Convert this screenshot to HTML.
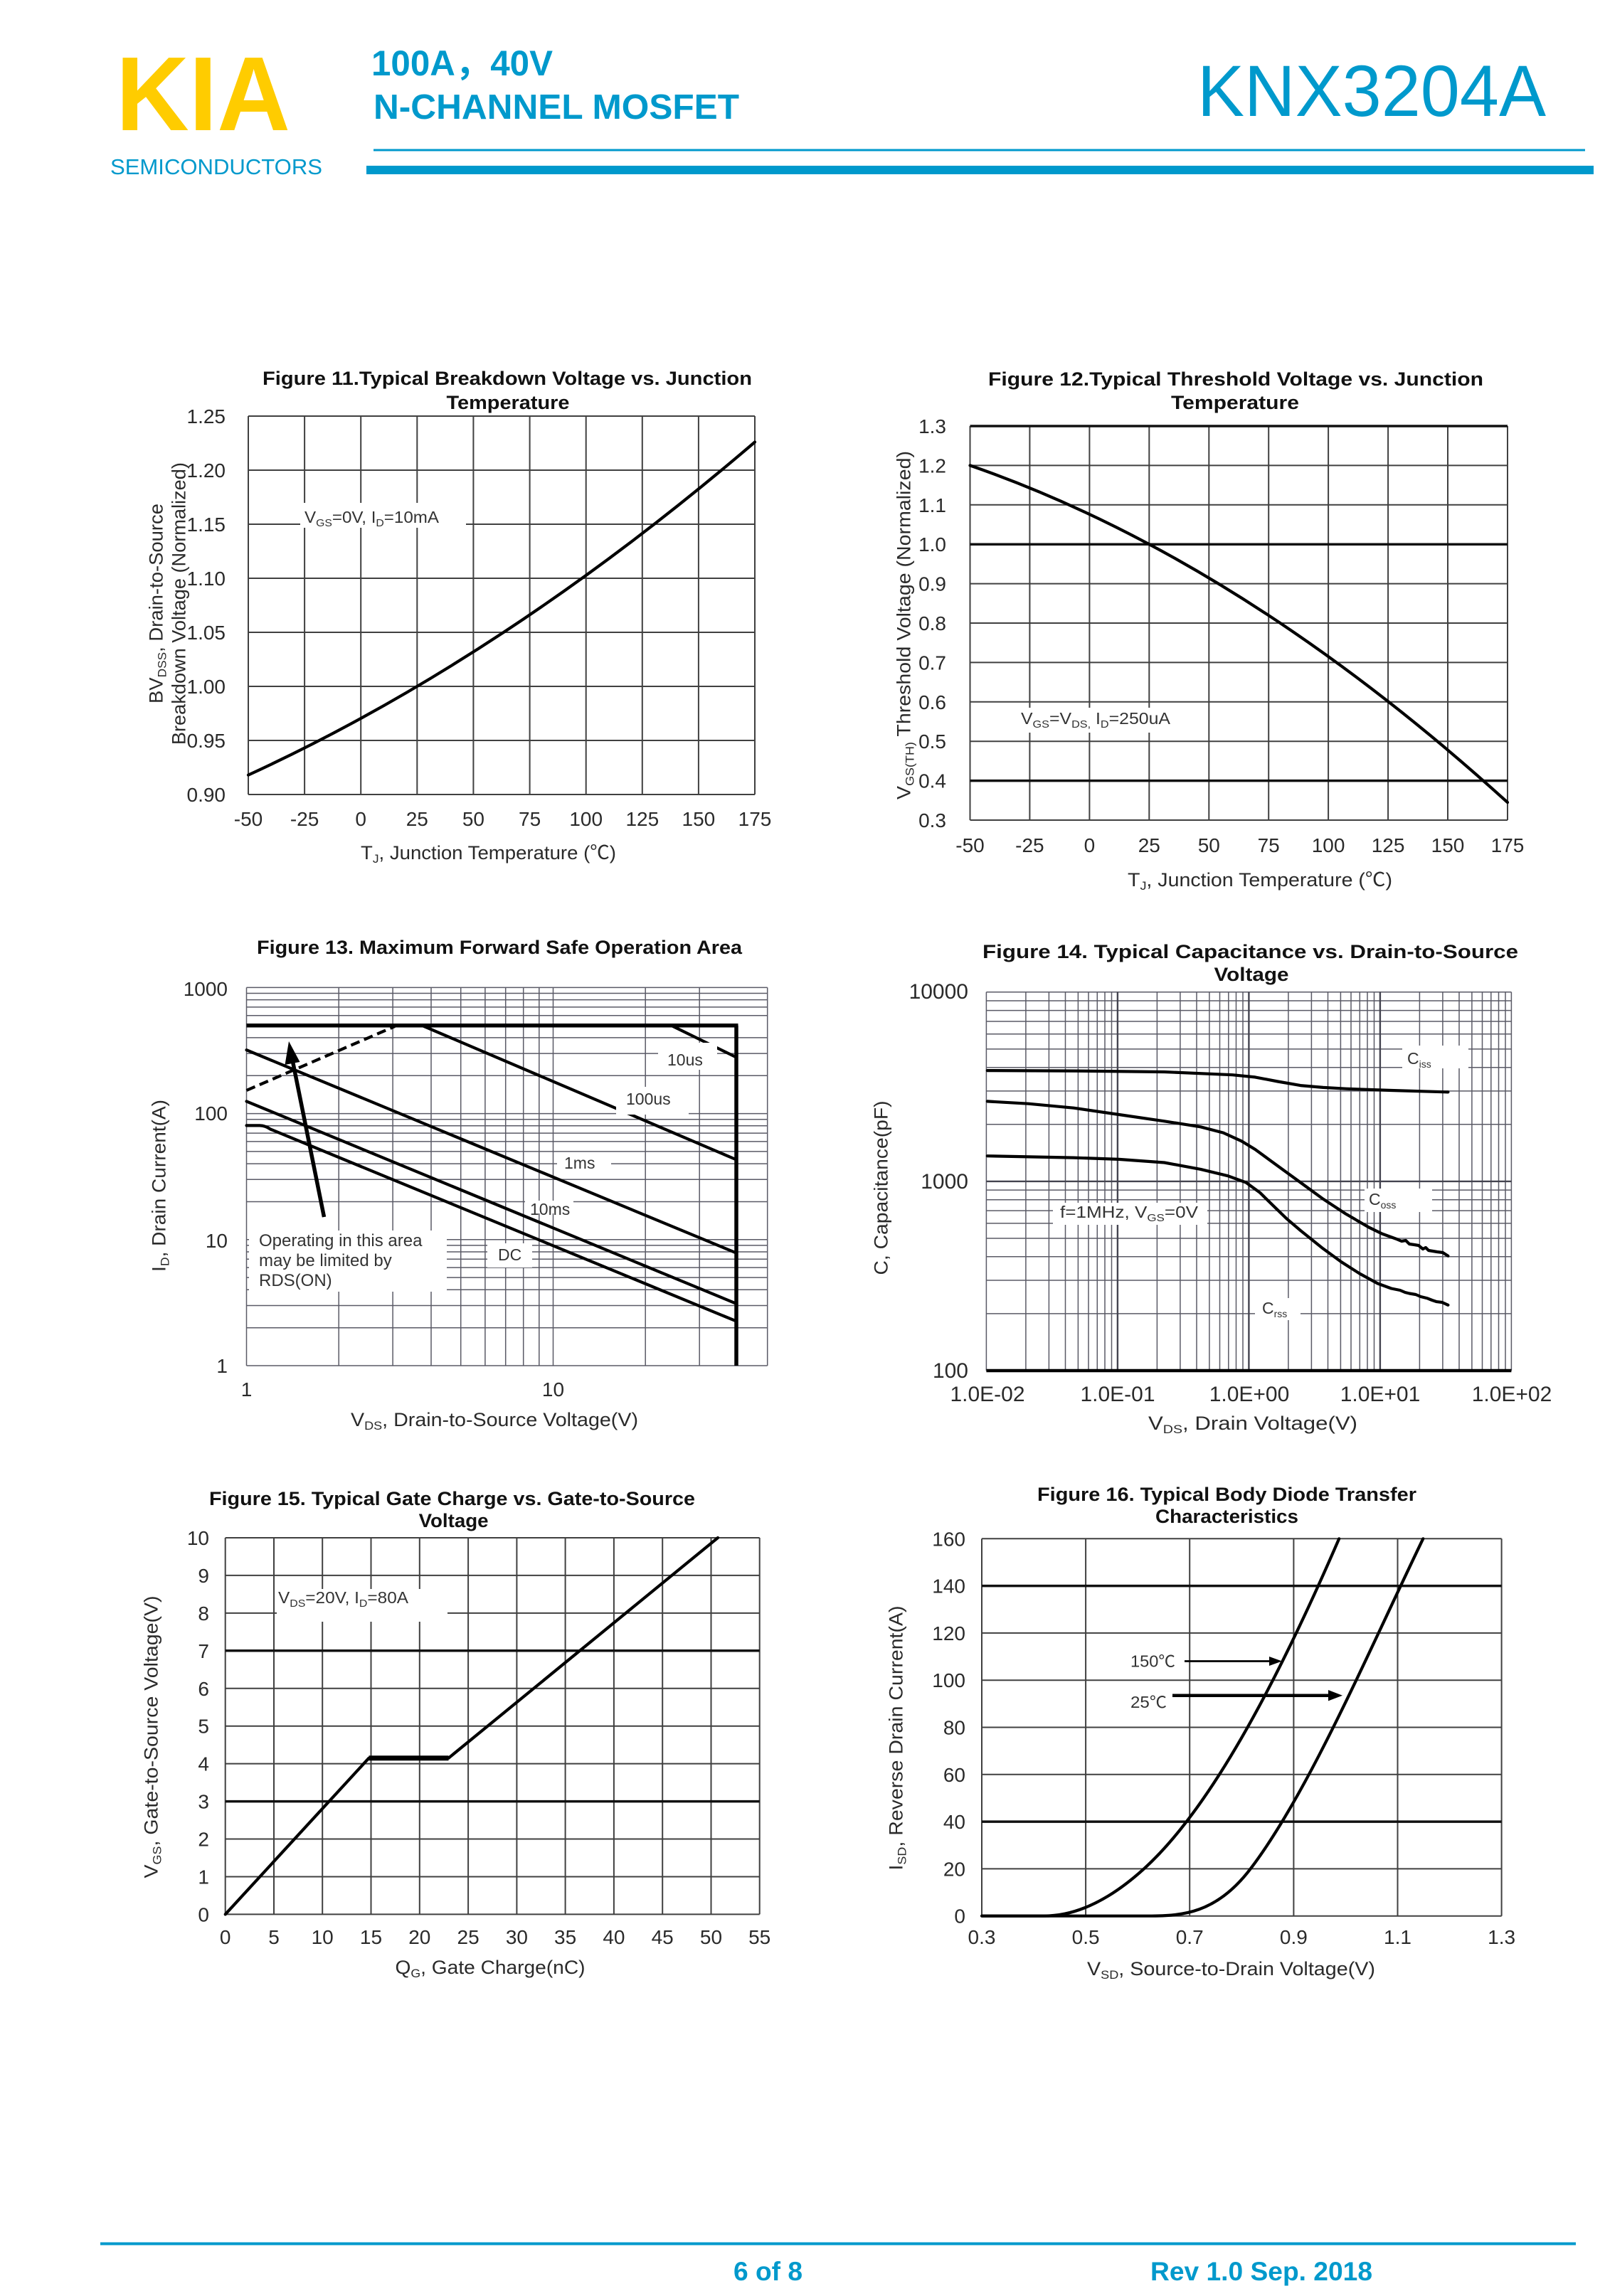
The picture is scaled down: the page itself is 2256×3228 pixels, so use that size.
<!DOCTYPE html>
<html><head><meta charset="utf-8">
<style>
html,body{margin:0;padding:0;background:#fff;}
svg{display:block;}
text{font-family:"Liberation Sans","Noto Sans CJK SC",sans-serif;}
.g{stroke:#404040;stroke-width:2;fill:none}
.gt{stroke:#111;stroke-width:3.5;fill:none}
.lg{stroke:#5a5a66;stroke-width:1.5;fill:none}
.lgd{stroke:#444450;stroke-width:2.4;fill:none}
.c{stroke:#000;stroke-width:4.2;fill:none;stroke-linejoin:round;stroke-linecap:round}
.tk{font-size:28px;fill:#2a2a2a}
.tk30{font-size:30px;fill:#2a2a2a}
.ti{font-size:27px;font-weight:bold;fill:#111}
.ax{font-size:27px;fill:#2a2a2a}
.an{font-size:23px;fill:#333}
</style></head><body>
<svg width="2256" height="3228" viewBox="0 0 2256 3228" xmlns="http://www.w3.org/2000/svg">
<rect x="0" y="0" width="2256" height="3228" fill="#fff"/>

<!-- HEADER -->
<text x="163" y="183" font-size="148" font-weight="bold" fill="#FFCC00" textLength="245" lengthAdjust="spacingAndGlyphs">KIA</text>
<text x="155" y="245" font-size="31" fill="#0099CC" textLength="298" lengthAdjust="spacingAndGlyphs">SEMICONDUCTORS</text>
<text x="522" y="106" font-size="50" font-weight="bold" fill="#0099CC" textLength="255" lengthAdjust="spacingAndGlyphs">100A，40V</text>
<text x="525" y="167" font-size="49" font-weight="bold" fill="#0099CC" textLength="514" lengthAdjust="spacingAndGlyphs">N-CHANNEL MOSFET</text>
<text x="1683" y="163" font-size="102" fill="#0099CC" textLength="490" lengthAdjust="spacingAndGlyphs">KNX3204A</text>
<rect x="525" y="209.5" width="1703" height="3" fill="#0099CC"/>
<rect x="515" y="233" width="1725" height="12" fill="#0099CC"/>

<!-- FOOTER -->
<rect x="141" y="3152.5" width="2074" height="4" fill="#0099CC"/>
<text x="1031" y="3206" font-size="37" font-weight="bold" fill="#0099CC" textLength="97" lengthAdjust="spacingAndGlyphs">6 of 8</text>
<text x="1617" y="3206" font-size="37" font-weight="bold" fill="#0099CC" textLength="312" lengthAdjust="spacingAndGlyphs">Rev 1.0 Sep. 2018</text>

<!-- ================= FIGURE 11 ================= -->
<text class="ti" x="369" y="541" textLength="688" lengthAdjust="spacingAndGlyphs">Figure 11.Typical Breakdown Voltage vs. Junction</text>
<text class="ti" x="627.5" y="575" textLength="173" lengthAdjust="spacingAndGlyphs">Temperature</text>
<path class="g" d="M349 585V1117M428.1 585V1117M507.2 585V1117M586.3 585V1117M665.4 585V1117M744.6 585V1117M823.7 585V1117M902.8 585V1117M981.9 585V1117M1061 585V1117M349 585H1061M349 661H1061M349 737H1061M349 813H1061M349 889H1061M349 965H1061M349 1041H1061M349 1117H1061"/>
<rect x="422" y="707" width="233" height="35" fill="#fff"/>
<text class="an" x="428" y="735" textLength="189" lengthAdjust="spacingAndGlyphs">V<tspan font-size="15" dy="5">GS</tspan><tspan dy="-5">=0V, I</tspan><tspan font-size="15" dy="5">D</tspan><tspan dy="-5">=10mA</tspan></text>
<path class="c" d="M349 1089.6Q705 926.2 1061 621.5"/>
<g class="tk" text-anchor="end">
<text x="317" y="595">1.25</text><text x="317" y="671">1.20</text><text x="317" y="747">1.15</text><text x="317" y="823">1.10</text>
<text x="317" y="899">1.05</text><text x="317" y="975">1.00</text><text x="317" y="1051">0.95</text><text x="317" y="1127">0.90</text>
</g>
<g class="tk" text-anchor="middle">
<text x="349" y="1161">-50</text><text x="428.1" y="1161">-25</text><text x="507.2" y="1161">0</text><text x="586.3" y="1161">25</text>
<text x="665.4" y="1161">50</text><text x="744.6" y="1161">75</text><text x="823.7" y="1161">100</text><text x="902.8" y="1161">125</text>
<text x="981.9" y="1161">150</text><text x="1061" y="1161">175</text>
</g>
<text class="ax" x="507" y="1208" textLength="359" lengthAdjust="spacingAndGlyphs">T<tspan font-size="17" dy="5">J</tspan><tspan dy="-5">, Junction Temperature (℃)</tspan></text>
<text class="ax" transform="translate(219,848.5) rotate(-90)" x="-140.5" y="9.5" textLength="281" lengthAdjust="spacingAndGlyphs">BV<tspan font-size="17" dy="5">DSS</tspan><tspan dy="-5">, Drain-to-Source</tspan></text>
<text class="ax" transform="translate(251,848.6) rotate(-90)" x="-198.5" y="9.5" textLength="397" lengthAdjust="spacingAndGlyphs">Breakdown Voltage (Normalized)</text>

<!-- ================= FIGURE 12 ================= -->
<text class="ti" x="1389" y="542" textLength="696" lengthAdjust="spacingAndGlyphs">Figure 12.Typical Threshold Voltage vs. Junction</text>
<text class="ti" x="1646" y="575" textLength="180" lengthAdjust="spacingAndGlyphs">Temperature</text>
<path class="g" d="M1363.5 599V1153M1447.4 599V1153M1531.4 599V1153M1615.3 599V1153M1699.3 599V1153M1783.2 599V1153M1867.1 599V1153M1951.1 599V1153M2035 599V1153M2119 599V1153M1363.5 654.4H2119M1363.5 709.8H2119M1363.5 820.6H2119M1363.5 876H2119M1363.5 931.4H2119M1363.5 986.8H2119M1363.5 1042.2H2119M1363.5 1153H2119"/>
<path class="gt" d="M1363.5 599H2119M1363.5 765.2H2119M1363.5 1097.6H2119"/>
<rect x="1432" y="995" width="218" height="35" fill="#fff"/>
<text class="an" x="1435" y="1018" textLength="210" lengthAdjust="spacingAndGlyphs">V<tspan font-size="15" dy="5">GS</tspan><tspan dy="-5">=V</tspan><tspan font-size="15" dy="5">DS,</tspan><tspan dy="-5"> I</tspan><tspan font-size="15" dy="5">D</tspan><tspan dy="-5">=250uA</tspan></text>
<path class="c" d="M1363.5 654.4Q1741.3 785.3 2119 1128.1"/>
<g class="tk" text-anchor="end">
<text x="1330" y="609">1.3</text><text x="1330" y="664.4">1.2</text><text x="1330" y="719.8">1.1</text><text x="1330" y="775.2">1.0</text>
<text x="1330" y="830.6">0.9</text><text x="1330" y="886">0.8</text><text x="1330" y="941.4">0.7</text><text x="1330" y="996.8">0.6</text>
<text x="1330" y="1052.2">0.5</text><text x="1330" y="1107.6">0.4</text><text x="1330" y="1163">0.3</text>
</g>
<g class="tk" text-anchor="middle">
<text x="1363.5" y="1198">-50</text><text x="1447.4" y="1198">-25</text><text x="1531.4" y="1198">0</text><text x="1615.3" y="1198">25</text>
<text x="1699.3" y="1198">50</text><text x="1783.2" y="1198">75</text><text x="1867.1" y="1198">100</text><text x="1951.1" y="1198">125</text>
<text x="2035" y="1198">150</text><text x="2119" y="1198">175</text>
</g>
<text class="ax" x="1585" y="1246" textLength="372" lengthAdjust="spacingAndGlyphs">T<tspan font-size="17" dy="5">J</tspan><tspan dy="-5">, Junction Temperature (℃)</tspan></text>
<text class="ax" transform="translate(1270,879) rotate(-90)" x="-245" y="9.5" textLength="490" lengthAdjust="spacingAndGlyphs">V<tspan font-size="17" dy="5">GS(TH)</tspan><tspan dy="-5"> Threshold Voltage (Normalized)</tspan></text>

<!-- ================= FIGURE 13 (SOA) ================= -->
<text class="ti" x="361" y="1341" textLength="682" lengthAdjust="spacingAndGlyphs">Figure 13. Maximum Forward Safe Operation Area</text>
<path class="lg" d="M346.5 1388.4V1920M476.2 1388.4V1920M552.1 1388.4V1920M606 1388.4V1920M647.7 1388.4V1920M681.9 1388.4V1920M710.7 1388.4V1920M735.7 1388.4V1920M757.8 1388.4V1920M777.5 1388.4V1920M907.2 1388.4V1920M983.2 1388.4V1920M1078.7 1388.4V1920
M346.5 1920H1078.7M346.5 1866.7H1078.7M346.5 1835.5H1078.7M346.5 1813.3H1078.7M346.5 1796.1H1078.7M346.5 1782.1H1078.7M346.5 1770.3H1078.7M346.5 1760H1078.7M346.5 1750.9H1078.7M346.5 1742.8H1078.7M346.5 1689.5H1078.7M346.5 1658.3H1078.7M346.5 1636.1H1078.7M346.5 1618.9H1078.7M346.5 1604.9H1078.7M346.5 1593.1H1078.7M346.5 1582.8H1078.7M346.5 1573.7H1078.7M346.5 1565.6H1078.7M346.5 1512.3H1078.7M346.5 1481.1H1078.7M346.5 1458.9H1078.7M346.5 1427.7H1078.7M346.5 1415.9H1078.7M346.5 1405.6H1078.7M346.5 1396.5H1078.7M346.5 1388.4H1078.7"/>
<path d="M346.5 1441.7H1037.5M1035 1441.7V1920" stroke="#000" stroke-width="5.5" fill="none"/>
<path class="c" d="M593 1441.7L1034 1630"/>
<path class="c" d="M944 1442L1034 1486"/>
<path class="c" d="M346.5 1476.2L1034 1761.2"/>
<path class="c" d="M346.5 1548.4L1034 1832.4"/>
<path class="c" d="M346.5 1582.4L365 1582.4Q373 1582.6 380 1587.5L1034 1857.1"/>
<path d="M346.5 1533L555 1443" stroke="#000" stroke-width="4.2" stroke-dasharray="13 7" fill="none"/>
<path d="M455.5 1711L410 1485" stroke="#000" stroke-width="5.5" fill="none"/>
<polygon points="406,1464 421.5,1493 400.5,1497" fill="#000"/>
<rect x="925" y="1466" width="83" height="38" fill="#fff"/>
<rect x="866" y="1528" width="102" height="39" fill="#fff"/>
<rect x="783" y="1620" width="76" height="32" fill="#fff"/>
<rect x="738" y="1688" width="68" height="18" fill="#fff"/>
<rect x="685" y="1748" width="63" height="34" fill="#fff"/>
<rect x="350" y="1730" width="278" height="86" fill="#fff"/>
<g class="an">
<text x="938" y="1498">10us</text>
<text x="880" y="1553">100us</text>
<text x="793" y="1643">1ms</text>
<text x="745" y="1708">10ms</text>
<text x="700" y="1772">DC</text>
<text x="364" y="1752" font-size="24">Operating in this area</text>
<text x="364" y="1780" font-size="24">may be limited by</text>
<text x="364" y="1808" font-size="24">RDS(ON)</text>
</g>
<g class="tk" text-anchor="end">
<text x="320" y="1400">1000</text><text x="320" y="1575">100</text><text x="320" y="1754">10</text><text x="320" y="1930">1</text>
</g>
<g class="tk" text-anchor="middle">
<text x="346.5" y="1963">1</text><text x="777.5" y="1963">10</text>
</g>
<text class="ax" x="493" y="2005" textLength="404" lengthAdjust="spacingAndGlyphs">V<tspan font-size="17" dy="5">DS</tspan><tspan dy="-5">, Drain-to-Source Voltage(V)</tspan></text>
<text class="ax" transform="translate(223,1667) rotate(-90)" x="-121" y="9.5" textLength="242" lengthAdjust="spacingAndGlyphs">I<tspan font-size="17" dy="5">D</tspan><tspan dy="-5">, Drain Current(A)</tspan></text>

<!-- ================= FIGURE 14 (Capacitance) ================= -->
<text class="ti" x="1381" y="1347" textLength="753" lengthAdjust="spacingAndGlyphs">Figure 14. Typical Capacitance vs. Drain-to-Source</text>
<text class="ti" x="1706.5" y="1379" textLength="105" lengthAdjust="spacingAndGlyphs">Voltage</text>
<path class="lg" d="M1386.4 1394.8V1927M1441.9 1394.8V1927M1474.4 1394.8V1927M1497.5 1394.8V1927M1515.4 1394.8V1927M1530 1394.8V1927M1542.3 1394.8V1927M1553 1394.8V1927M1562.5 1394.8V1927M1626.4 1394.8V1927M1658.9 1394.8V1927M1682 1394.8V1927M1699.9 1394.8V1927M1714.5 1394.8V1927M1726.8 1394.8V1927M1737.5 1394.8V1927M1747 1394.8V1927M1810.9 1394.8V1927M1843.4 1394.8V1927M1866.5 1394.8V1927M1884.4 1394.8V1927M1899 1394.8V1927M1911.3 1394.8V1927M1922 1394.8V1927M1931.5 1394.8V1927M1995.4 1394.8V1927M2027.9 1394.8V1927M2051 1394.8V1927M2068.9 1394.8V1927M2083.5 1394.8V1927M2095.8 1394.8V1927M2106.5 1394.8V1927M2116 1394.8V1927M2124.4 1394.8V1927
M1386.4 1846.9H2124.4M1386.4 1800H2124.4M1386.4 1766.8H2124.4M1386.4 1741H2124.4M1386.4 1719.9H2124.4M1386.4 1702.1H2124.4M1386.4 1686.7H2124.4M1386.4 1673.1H2124.4M1386.4 1580.8H2124.4M1386.4 1533.9H2124.4M1386.4 1500.7H2124.4M1386.4 1474.9H2124.4M1386.4 1453.8H2124.4M1386.4 1436H2124.4M1386.4 1420.6H2124.4M1386.4 1407H2124.4M1386.4 1394.8H2124.4"/>
<path class="lgd" d="M1570.9 1394.8V1927M1755.4 1394.8V1927M1939.9 1394.8V1927M1386.4 1660.9H2124.4"/>
<path d="M1386.4 1927H2124.4" stroke="#000" stroke-width="4.5" fill="none"/>
<polyline class="c" points="1387.8,1505.1 1509,1505.6 1636.6,1507 1732.3,1511.2 1764.2,1514.4 1796.1,1520.5 1828,1526.1 1859.9,1528.9 1891.8,1530.7 1955.6,1533 2035.4,1535.4"/>
<polyline class="c" points="1387.8,1548.4 1445.2,1551.7 1509,1557.7 1572.8,1567 1636.6,1576.3 1687.6,1584.3 1719.5,1592.6 1745.1,1604.3 1764.2,1615.9 1783.3,1629.9 1802.5,1643.9 1828,1662.5 1859.9,1685.8 1891.8,1706.7 1923.7,1725.3 1942.8,1734.6 1962,1741.6 1970,1745 1976,1744 1981,1749 1988,1750 1994,1751 2000,1756 2004,1754 2008,1758 2014,1759 2020,1760 2028,1761 2035.4,1765.8"/>
<polyline class="c" points="1387.8,1625.2 1509,1627.6 1572.8,1629.9 1636.6,1634.5 1687.6,1643.9 1725.9,1653.2 1751.4,1662.5 1770.6,1676.4 1789.7,1695.1 1808.9,1713.7 1828,1730 1859.9,1755.6 1885.4,1774.2 1911,1790.5 1936.5,1804.5 1955.6,1811.5 1968,1814 1975,1817 1981.1,1818.5 1990,1820 1997,1823 2006.6,1825.4 2013,1828 2019.4,1830.1 2027,1831 2035.4,1834.8"/>
<rect x="1971" y="1470" width="93" height="32" fill="#fff"/>
<rect x="1918" y="1671" width="95" height="33" fill="#fff"/>
<rect x="1764" y="1825" width="64" height="31" fill="#fff"/>
<rect x="1480" y="1691" width="217" height="31" fill="#fff"/>
<g class="an">
<text x="1978" y="1496">C<tspan font-size="14" dy="5">iss</tspan></text>
<text x="1924" y="1694">C<tspan font-size="14" dy="5">oss</tspan></text>
<text x="1774" y="1847">C<tspan font-size="14" dy="5">rss</tspan></text>
<text x="1490" y="1712" textLength="194" lengthAdjust="spacingAndGlyphs">f=1MHz, V<tspan font-size="15" dy="5">GS</tspan><tspan dy="-5">=0V</tspan></text>
</g>
<g class="tk30" text-anchor="end">
<text x="1361" y="1404">10000</text><text x="1361" y="1671">1000</text><text x="1361" y="1937">100</text>
</g>
<g class="tk30" text-anchor="middle">
<text x="1388" y="1970">1.0E-02</text><text x="1571" y="1970">1.0E-01</text><text x="1756" y="1970">1.0E+00</text><text x="1940" y="1970">1.0E+01</text><text x="2125" y="1970">1.0E+02</text>
</g>
<text class="ax" x="1614" y="2010" textLength="294" lengthAdjust="spacingAndGlyphs">V<tspan font-size="17" dy="5">DS</tspan><tspan dy="-5">, Drain Voltage(V)</tspan></text>
<text class="ax" transform="translate(1238,1670) rotate(-90)" x="-122.5" y="9.5" textLength="245" lengthAdjust="spacingAndGlyphs">C, Capacitance(pF)</text>

<!-- ================= FIGURE 15 ================= -->
<text class="ti" x="294" y="2116" textLength="683" lengthAdjust="spacingAndGlyphs">Figure 15. Typical Gate Charge vs. Gate-to-Source</text>
<text class="ti" x="588.6" y="2147" textLength="98" lengthAdjust="spacingAndGlyphs">Voltage</text>
<path class="g" d="M316.7 2162V2691.4M385 2162V2691.4M453.2 2162V2691.4M521.5 2162V2691.4M589.8 2162V2691.4M658.1 2162V2691.4M726.4 2162V2691.4M794.6 2162V2691.4M862.9 2162V2691.4M931.2 2162V2691.4M999.5 2162V2691.4M1067.7 2162V2691.4M316.7 2162H1067.7M316.7 2214.9H1067.7M316.7 2267.9H1067.7M316.7 2373.8H1067.7M316.7 2426.7H1067.7M316.7 2479.6H1067.7M316.7 2585.5H1067.7M316.7 2638.5H1067.7M316.7 2691.4H1067.7"/>
<path class="gt" d="M316.7 2320.8H1067.7M316.7 2532.6H1067.7"/>
<rect x="389" y="2234" width="240" height="46" fill="#fff"/>
<text class="an" x="391" y="2254" textLength="183" lengthAdjust="spacingAndGlyphs">V<tspan font-size="15" dy="5">DS</tspan><tspan dy="-5">=20V, I</tspan><tspan font-size="15" dy="5">D</tspan><tspan dy="-5">=80A</tspan></text>
<path class="c" d="M316.7 2691.4L518.5 2471.7L630.5 2471.7L1009 2162"/>
<path d="M518.5 2471.7H630.5" stroke="#000" stroke-width="7" fill="none"/>
<g class="tk" text-anchor="end">
<text x="294" y="2172">10</text><text x="294" y="2224.9">9</text><text x="294" y="2277.9">8</text><text x="294" y="2330.8">7</text>
<text x="294" y="2383.8">6</text><text x="294" y="2436.7">5</text><text x="294" y="2489.6">4</text><text x="294" y="2542.6">3</text>
<text x="294" y="2595.5">2</text><text x="294" y="2648.5">1</text><text x="294" y="2701.4">0</text>
</g>
<g class="tk" text-anchor="middle">
<text x="316.7" y="2733">0</text><text x="385" y="2733">5</text><text x="453.2" y="2733">10</text><text x="521.5" y="2733">15</text>
<text x="589.8" y="2733">20</text><text x="658.1" y="2733">25</text><text x="726.4" y="2733">30</text><text x="794.6" y="2733">35</text>
<text x="862.9" y="2733">40</text><text x="931.2" y="2733">45</text><text x="999.5" y="2733">50</text><text x="1067.7" y="2733">55</text>
</g>
<text class="ax" x="555.5" y="2775" textLength="267" lengthAdjust="spacingAndGlyphs">Q<tspan font-size="17" dy="5">G</tspan><tspan dy="-5">, Gate Charge(nC)</tspan></text>
<text class="ax" transform="translate(212,2442) rotate(-90)" x="-198.5" y="9.5" textLength="397" lengthAdjust="spacingAndGlyphs">V<tspan font-size="17" dy="5">GS</tspan><tspan dy="-5">, Gate-to-Source Voltage(V)</tspan></text>

<!-- ================= FIGURE 16 ================= -->
<text class="ti" x="1458" y="2110" textLength="533" lengthAdjust="spacingAndGlyphs">Figure 16. Typical Body Diode Transfer</text>
<text class="ti" x="1624" y="2141" textLength="201" lengthAdjust="spacingAndGlyphs">Characteristics</text>
<path class="g" d="M1380 2163.3V2693.7M1526.1 2163.3V2693.7M1672.2 2163.3V2693.7M1818.4 2163.3V2693.7M1964.5 2163.3V2693.7M2110.6 2163.3V2693.7M1380 2163.3H2110.6M1380 2295.9H2110.6M1380 2362.2H2110.6M1380 2428.5H2110.6M1380 2494.8H2110.6M1380 2627.4H2110.6M1380 2693.7H2110.6"/>
<path class="gt" d="M1380 2229.6H2110.6M1380 2561.1H2110.6"/>
<path class="c" d="M1380.1 2693.7L1467.7 2693.7C1514.4 2693.7 1561.2 2669.8 1607.9 2627.4C1699.3 2544.5 1790.8 2374.5 1882.2 2163.3"/>
<path class="c" d="M1380.1 2693.7L1613.8 2693.7C1661.8 2693.7 1709.7 2690.6 1757.7 2627.4C1838.6 2521 1919.4 2331.3 2000.3 2163.3"/>
<path d="M1665 2335.5H1790" stroke="#000" stroke-width="2.8" fill="none"/>
<polygon points="1802,2335.5 1784,2329 1784,2342" fill="#000"/>
<path d="M1648 2383.7H1872" stroke="#000" stroke-width="4.5" fill="none"/>
<polygon points="1887,2383.7 1867,2376 1867,2391.4" fill="#000"/>
<text class="an" x="1589" y="2343.5" textLength="63" lengthAdjust="spacingAndGlyphs">150℃</text>
<text class="an" x="1589" y="2401" textLength="51" lengthAdjust="spacingAndGlyphs">25℃</text>
<g class="tk" text-anchor="end">
<text x="1357" y="2173.3">160</text><text x="1357" y="2239.6">140</text><text x="1357" y="2305.9">120</text><text x="1357" y="2372.2">100</text>
<text x="1357" y="2438.5">80</text><text x="1357" y="2504.8">60</text><text x="1357" y="2571.1">40</text><text x="1357" y="2637.4">20</text><text x="1357" y="2703.7">0</text>
</g>
<g class="tk" text-anchor="middle">
<text x="1380" y="2733">0.3</text><text x="1526.1" y="2733">0.5</text><text x="1672.2" y="2733">0.7</text><text x="1818.4" y="2733">0.9</text><text x="1964.5" y="2733">1.1</text><text x="2110.6" y="2733">1.3</text>
</g>
<text class="ax" x="1528" y="2777" textLength="405" lengthAdjust="spacingAndGlyphs">V<tspan font-size="17" dy="5">SD</tspan><tspan dy="-5">, Source-to-Drain Voltage(V)</tspan></text>
<text class="ax" transform="translate(1259,2443.5) rotate(-90)" x="-186" y="9.5" textLength="372" lengthAdjust="spacingAndGlyphs">I<tspan font-size="17" dy="5">SD</tspan><tspan dy="-5">, Reverse Drain Current(A)</tspan></text>

</svg>
</body></html>
